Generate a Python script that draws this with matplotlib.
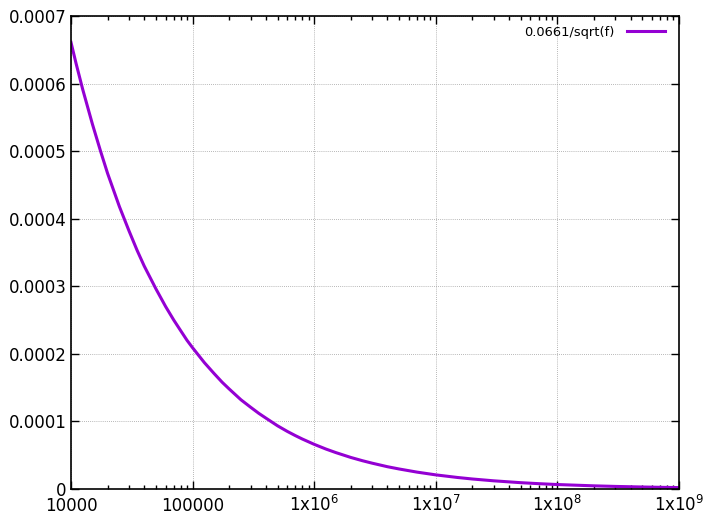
import numpy as np
import matplotlib
matplotlib.use("Agg")
import matplotlib.pyplot as plt
from matplotlib.ticker import FixedLocator, LogLocator, NullFormatter

# values (frequency, amplitude)
freq = [1e4, 1.1e4, 1.25e4, 1.5e4, 1.75e4, 2e4, 2.5e4, 3e4, 3.5e4, 4e4, 5e4, 6e4, 7e4, 8e4, 9e4,
        1e5, 1.25e5, 1.5e5, 1.75e5, 2e5, 2.5e5, 3e5, 3.5e5, 4e5, 5e5, 6e5, 7e5, 8e5,
        1e6, 1.25e6, 1.5e6, 2e6, 2.5e6, 3e6, 4e6, 5e6, 7e6,
        1e7, 1.5e7, 2e7, 3e7, 5e7, 7e7,
        1e8, 2e8, 3e8, 5e8, 7e8, 1e9]
amp = [6.61e-4, 6.30e-4, 5.91e-4, 5.40e-4, 5.00e-4, 4.67e-4, 4.18e-4, 3.82e-4, 3.53e-4, 3.30e-4,
       2.96e-4, 2.70e-4, 2.50e-4, 2.34e-4, 2.20e-4,
       2.09e-4, 1.87e-4, 1.71e-4, 1.58e-4, 1.48e-4, 1.32e-4, 1.21e-4, 1.12e-4, 1.05e-4,
       9.35e-5, 8.53e-5, 7.90e-5, 7.39e-5,
       6.61e-5, 5.91e-5, 5.40e-5, 4.67e-5, 4.18e-5, 3.82e-5, 3.30e-5, 2.96e-5, 2.50e-5,
       2.09e-5, 1.71e-5, 1.48e-5, 1.21e-5, 9.35e-6, 7.90e-6,
       6.61e-6, 4.67e-6, 3.82e-6, 2.96e-6, 2.50e-6, 2.09e-6]
label = "0.0661/sqrt(f)"

x_ticks = [1e4, 1e5, 1e6, 1e7, 1e8, 1e9]
x_labels = ["10000", "100000", "1x10$^{6}$", "1x10$^{7}$", "1x10$^{8}$", "1x10$^{9}$"]
y_ticks = [0, 0.0001, 0.0002, 0.0003, 0.0004, 0.0005, 0.0006, 0.0007]
y_labels = ["0", "0.0001", "0.0002", "0.0003", "0.0004", "0.0005", "0.0006", "0.0007"]

fig = plt.figure(figsize=(7.09, 5.14), dpi=100)
ax = fig.add_axes([71 / 709, 1 - 489 / 514, (679 - 71) / 709, (489 - 16) / 514])

ax.plot(freq, amp, color="#9400D3", lw=2.2, label=label, solid_joinstyle="round")

ax.set_xscale("log")
ax.set_xlim(1e4, 1e9)
ax.set_ylim(0, 0.0007)
ax.xaxis.set_major_locator(FixedLocator(x_ticks))
ax.set_xticklabels(x_labels, fontsize=12)
ax.xaxis.set_minor_locator(LogLocator(base=10, subs=np.arange(2, 10), numticks=20))
ax.xaxis.set_minor_formatter(NullFormatter())
ax.set_yticks(y_ticks)
ax.set_yticklabels(y_labels, fontsize=12)

ax.tick_params(which="both", direction="in", top=True, right=True, width=1)
ax.tick_params(which="major", length=6)
ax.tick_params(axis="x", which="major", pad=16)
ax.tick_params(axis="y", which="major", pad=3)
ax.tick_params(which="minor", length=3)
for t in ax.get_xticklabels():
    t.set_verticalalignment("baseline")
for s in ax.spines.values():
    s.set_linewidth(1.2)

ax.grid(True, which="major", color="#a0a0a0", linestyle=(0, (1, 1.5)), linewidth=0.6)

ax.legend(loc="upper right", frameon=False, fontsize=9.4, handlelength=2.9,
          markerfirst=False, borderaxespad=0.35, handletextpad=1.0,
          bbox_to_anchor=(0.993, 1.0))

fig.savefig("out.png", dpi=100)
